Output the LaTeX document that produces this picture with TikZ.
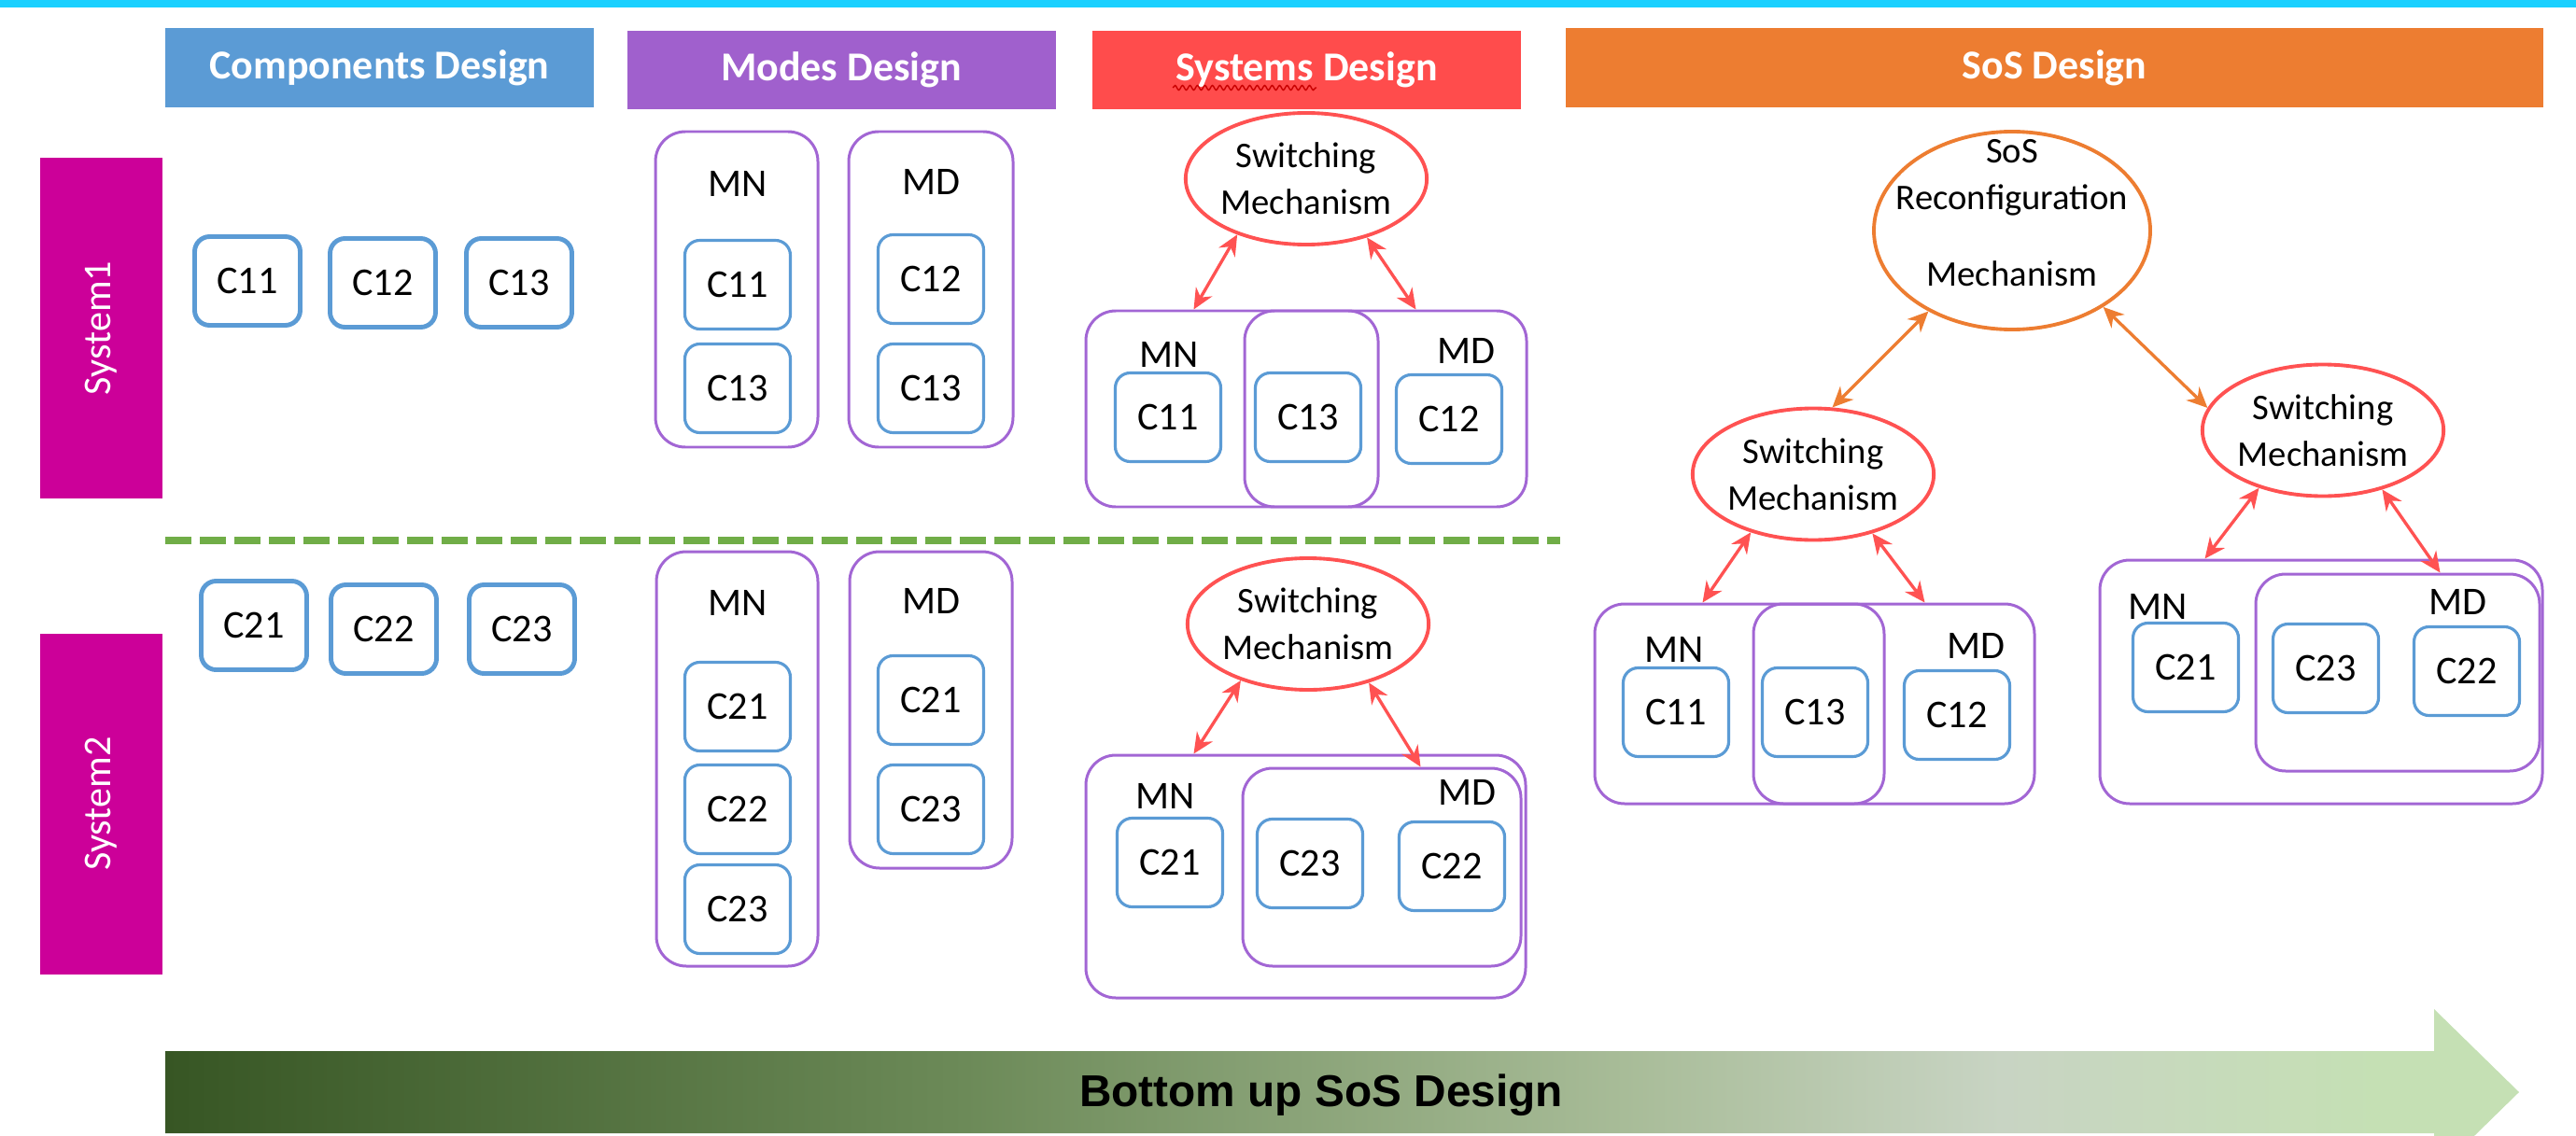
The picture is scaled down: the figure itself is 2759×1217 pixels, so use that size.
\documentclass[tikz,border=0pt]{standalone}
\usepackage{fontspec}
\setmainfont{Carlito}
\newfontfamily\arialfont{Liberation Sans}
\usetikzlibrary{arrows.meta,shapes.geometric,decorations.pathmorphing}

\definecolor{topcyan}{RGB}{26,208,255}
\definecolor{compblue}{RGB}{91,155,213}
\definecolor{modepurple}{RGB}{160,96,205}
\definecolor{boxpurple}{RGB}{162,102,212}
\definecolor{sysred}{RGB}{255,76,76}
\definecolor{swred}{RGB}{255,82,82}
\definecolor{sosorange}{RGB}{237,125,49}
\definecolor{sysmag}{RGB}{204,0,153}
\definecolor{sepgreen}{RGB}{112,173,71}
\definecolor{spellred}{RGB}{200,0,0}
\definecolor{gdark}{RGB}{55,86,36}
\definecolor{gmid}{RGB}{108,138,88}
\definecolor{gsoft}{RGB}{168,188,152}
\definecolor{gpale}{RGB}{200,212,195}
\definecolor{glight}{RGB}{197,224,180}

\pgfdeclarehorizontalshading{bottomup}{100bp}{color(0bp)=(gdark); color(25bp)=(gdark); color(42bp)=(gmid); color(56bp)=(gsoft); color(64bp)=(gpale); color(72bp)=(glight); color(100bp)=(glight)}

\begin{document}
\begin{tikzpicture}[x=0.1mm,y=0.1mm]
\tikzstyle{every node}+=[inner sep=0pt]
\tikzstyle{hdr}=[font=\fontsize{12.5}{15}\selectfont\bfseries, text=white]
\tikzstyle{sysbar}=[fill=sysmag, text=white, font=\fontsize{12}{14}\selectfont, rotate=90, minimum width=36.5mm, minimum height=13.1mm]
\tikzstyle{comp}=[draw=compblue, line width=0.9pt, rounded corners=1.6mm, minimum width=11.3mm, minimum height=9.5mm, font=\fontsize{12}{14}\selectfont]
\tikzstyle{compthick}=[comp, line width=1.4pt]
\tikzstyle{mode}=[draw=boxpurple, line width=0.85pt, rounded corners=3.2mm]
\tikzstyle{lbl}=[font=\fontsize{12}{14}\selectfont]
\tikzstyle{switch}=[ellipse, draw=swred, line width=1.1pt, minimum width=25.4mm, minimum height=14.1mm, align=center, font=\fontsize{11}{14.2}\selectfont]
\tikzstyle{reconf}=[ellipse, draw=sosorange, line width=1.1pt, minimum width=29.6mm, minimum height=21.2mm]
\tikzstyle{link}=[draw=swred, line width=0.95pt, {Stealth[length=2.2mm,width=2mm]}-{Stealth[length=2.2mm,width=2mm]}]
\tikzstyle{soslink}=[link, draw=sosorange]
\tikzstyle{sepline}=[draw=sepgreen, line width=2pt, dash pattern=on 2.8mm off 0.9mm]

\useasboundingbox (0,0) rectangle (2759,-1217);
\fill[topcyan] (0,0) rectangle (2759,-8);

% column headers
\node[hdr, fill=compblue, minimum width=45.9mm, minimum height=8.5mm] (hcomp) at (406.5,-72.5) {Components Design};
\node[hdr, fill=modepurple, minimum width=45.9mm, minimum height=8.4mm] (hmodes) at (901,-75) {Modes Design};
\node[hdr, fill=sysred, minimum width=45.9mm, minimum height=8.4mm] (hsys) at (1399.5,-75) {Systems Design};
\node[hdr, fill=sosorange, minimum width=104.7mm, minimum height=8.5mm] (hsos) at (2200.5,-72.5) {SoS Design};
\draw[spellred, line width=0.4pt, decorate, decoration={snake, amplitude=0.25mm, segment length=0.8mm}] (1256,-94) -- (1410,-94);

% row labels
\node[sysbar] (sys1) at (108.5,-351.5) {System1};
\node[sysbar] (sys2) at (108.5,-861) {System2};

\draw[sepline] (177,-579) -- (1671,-579);

% components design
\node[compthick] (k11) at (265,-301) {C11};
\node[compthick] (k12) at (410,-303) {C12};
\node[compthick] (k13) at (556,-303) {C13};
\node[compthick] (k21) at (272,-670) {C21};
\node[compthick] (k22) at (411,-674) {C22};
\node[compthick] (k23) at (559,-674) {C23};

% modes design
\node[mode, minimum width=17.4mm, minimum height=33.8mm] (mnA) at (789,-310) {};
\node[mode, minimum width=17.6mm, minimum height=33.8mm] (mdA) at (997,-310) {};
\node[lbl] (mnAl) at (790,-197) {MN};
\node[lbl] (mdAl) at (997,-195) {MD};
\node[comp] (mnA11) at (790,-305) {C11};
\node[comp] (mnA13) at (790,-416) {C13};
\node[comp] (mdA12) at (997,-299) {C12};
\node[comp] (mdA13) at (997,-416) {C13};

\node[mode, minimum width=17.3mm, minimum height=44.4mm] (mnB) at (789.5,-813) {};
\node[mode, minimum width=17.4mm, minimum height=33.9mm] (mdB) at (997,-760.5) {};
\node[lbl] (mnBl) at (790,-646) {MN};
\node[lbl] (mdBl) at (997,-644) {MD};
\node[comp] (mnB21) at (790,-757) {C21};
\node[comp] (mnB22) at (790,-867) {C22};
\node[comp] (mnB23) at (790,-974) {C23};
\node[comp] (mdB21) at (997,-750) {C21};
\node[comp] (mdB23) at (997,-867) {C23};

% systems design
\node[switch] (swS1) at (1399,-191.5) {Switching\\Mechanism};
\node[mode, minimum width=31.3mm, minimum height=21mm] (mnS1) at (1319.5,-438) {};
\node[mode, minimum width=30.2mm, minimum height=21mm] (mdS1) at (1484,-438) {};
\node[lbl] (mnS1l) at (1252,-380) {MN};
\node[lbl] (mdS1l) at (1570,-376) {MD};
\node[comp] (s11) at (1251,-447) {C11};
\node[comp] (s13) at (1401,-447) {C13};
\node[comp] (s12) at (1552,-449) {C12};
\draw[link] (swS1.219) -- ([xshift=11.7mm]mnS1.north west);
\draw[link] (swS1.-44) -- ([xshift=18.5mm]mdS1.north west);

\node[switch] (swS2) at (1401,-668.5) {Switching\\Mechanism};
\node[mode, minimum width=47.1mm, minimum height=26mm] (mnS2) at (1398.5,-939) {};
\node[mode, minimum width=29.8mm, minimum height=21.2mm] (mdS2) at (1480,-929) {};
\node[lbl] (mnS2l) at (1248,-853) {MN};
\node[lbl] (mdS2l) at (1571,-849) {MD};
\node[comp] (s21) at (1253,-924) {C21};
\node[comp] (s23) at (1403,-925) {C23};
\node[comp] (s22) at (1555,-928) {C22};
\draw[link] (swS2.220) -- ([xshift=11.7mm]mnS2.north west);
\draw[link] (swS2.-44) -- ([xshift=19.2mm]mdS2.north west);

% sos design
\node[reconf] (sosrm) at (2155,-247) {};
\node[align=center, font=\fontsize{11}{14.2}\selectfont] (sosrmtext) at (2155,-228) {SoS\\Reconfiguration\\[3.2mm]Mechanism};
\node[switch] (swL) at (1942,-508) {Switching\\Mechanism};
\node[switch] (swR) at (2488,-461) {Switching\\Mechanism};
\draw[soslink] (sosrm.224) -- (swL.74);
\draw[soslink] (sosrm.-40) -- (swR.169);

\node[mode, minimum width=31mm, minimum height=21.4mm] (mnL) at (1863,-754) {};
\node[mode, minimum width=30.1mm, minimum height=21.4mm] (mdL) at (2028.5,-754) {};
\node[lbl] (mnLl) at (1793,-696) {MN};
\node[lbl] (mdLl) at (2116,-692) {MD};
\node[comp] (l11) at (1795,-763) {C11};
\node[comp] (l13) at (1944,-763) {C13};
\node[comp] (l12) at (2096,-766) {C12};
\draw[link] (swL.223) -- ([xshift=11.7mm]mnL.north west);
\draw[link] (swL.-45) -- ([xshift=18.5mm]mdL.north west);

\node[mode, minimum width=47.4mm, minimum height=26.1mm] (mnR) at (2486,-730.5) {};
\node[mode, minimum width=30.4mm, minimum height=21.1mm] (mdR) at (2568,-720.5) {};
\node[lbl] (mnRl) at (2311,-650) {MN};
\node[lbl] (mdRl) at (2632,-645) {MD};
\node[comp] (r21) at (2341,-715) {C21};
\node[comp] (r23) at (2491,-716) {C23};
\node[comp] (r22) at (2642,-719) {C22};
\draw[link] (swR.222) -- ([xshift=11.4mm]mnR.north west);
\draw[link] (swR.-45) -- ([xshift=19.9mm]mdR.north west);

% bottom up arrow
\begin{scope}
\clip (0,0) rectangle (2759,-1217);
\shade[shading=bottomup] (177,-1126) -- (2607,-1126) -- (2607,-1081) -- (2698,-1170) -- (2607,-1259) -- (2607,-1214) -- (177,-1214) -- cycle;
\end{scope}
\node[font=\arialfont\fontsize{13.6}{16}\selectfont\bfseries] (bottomtxt) at (1415,-1173) {Bottom up SoS Design};
\end{tikzpicture}
\end{document}
